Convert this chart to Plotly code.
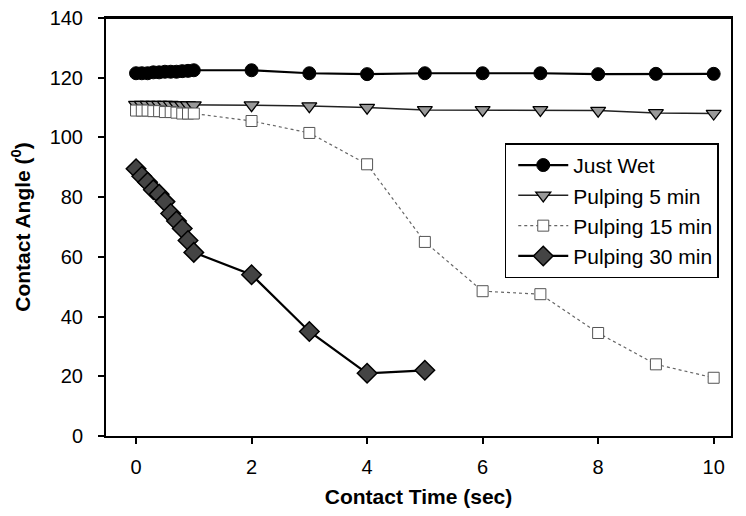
import plotly.graph_objects as go

t_dense = [0, 0.1, 0.2, 0.3, 0.4, 0.5, 0.6, 0.7, 0.8, 0.9, 1.0]
t_sparse = [2, 3, 4, 5, 6, 7, 8, 9, 10]
time_full = t_dense + t_sparse
time_30 = t_dense + [2, 3, 4, 5]

just_wet = [121.5, 121.5, 121.5, 121.8, 121.8, 122, 122, 122, 122.2, 122.3, 122.5,
            122.5, 121.5, 121.2, 121.5, 121.5, 121.5, 121.2, 121.3, 121.3]
pulp_5 = [111, 111, 111, 111, 111, 111, 111, 110.8, 110.8, 110.8, 110.8,
          110.8, 110.5, 110, 109.2, 109.2, 109.2, 109, 108.2, 108]
pulp_15 = [109, 109, 109, 108.8, 108.8, 108.5, 108.5, 108.3, 108, 108, 108,
           105.5, 101.5, 91, 65, 48.5, 47.5, 34.5, 24, 19.5]
pulp_30 = [89.5, 87, 85, 82.5, 81, 78.5, 74.5, 72, 69.5, 65.5, 61.5,
           54, 35, 21, 22]

series_names = ["Just Wet", "Pulping 5 min", "Pulping 15 min", "Pulping 30 min"]
x_ticks = [0, 2, 4, 6, 8, 10]
y_ticks = [0, 20, 40, 60, 80, 100, 120, 140]

fig = go.Figure()
fig.add_trace(go.Scatter(
    x=time_full, y=just_wet, name=series_names[0], mode="lines+markers",
    line=dict(color="black", width=2.2),
    marker=dict(symbol="circle", size=13, color="black", line=dict(color="black", width=1))))
fig.add_trace(go.Scatter(
    x=time_full, y=pulp_5, name=series_names[1], mode="lines+markers",
    line=dict(color="#222222", width=1.5),
    marker=dict(symbol="triangle-down", size=13, color="#999999", line=dict(color="black", width=1.3))))
fig.add_trace(go.Scatter(
    x=time_full, y=pulp_15, name=series_names[2], mode="lines+markers",
    line=dict(color="#666666", width=1.2, dash="dot"),
    marker=dict(symbol="square", size=11, color="white", line=dict(color="#555555", width=1))))
fig.add_trace(go.Scatter(
    x=time_30, y=pulp_30, name=series_names[3], mode="lines+markers",
    line=dict(color="black", width=2.2),
    marker=dict(symbol="diamond", size=15, color="#444444", line=dict(color="black", width=1.5))))

fig.add_shape(type="line", xref="paper", yref="paper", x0=0, x1=1, y0=1, y1=1,
              line=dict(color="black", width=2), layer="above")

fig.update_layout(
    width=730, height=500,
    margin=dict(l=98, r=7, t=10, b=72),
    paper_bgcolor="white", plot_bgcolor="white",
    font=dict(family="Liberation Sans, Arial, sans-serif", color="black", size=20),
    showlegend=True,
    legend=dict(x=0.638, y=0.70, xanchor="left", yanchor="top",
                bordercolor="black", borderwidth=1.5, bgcolor="white",
                font=dict(size=21), itemwidth=50, tracegroupgap=0,
                indentation=7),
    xaxis=dict(range=[-0.52, 10.3], tickvals=x_ticks, ticks="outside", ticklen=6,
               tickcolor="black", tickwidth=1.5, showline=True, linecolor="black", linewidth=2,
               mirror=True, showgrid=False, zeroline=False, automargin=False,
               ticklabelstandoff=6,
               title=dict(text="<b>Contact Time (sec)</b>", font=dict(size=21), standoff=14)),
    yaxis=dict(range=[0, 140], tickvals=y_ticks, ticks="outside", ticklen=6,
               tickcolor="black", tickwidth=1.5, showline=True, linecolor="black", linewidth=2,
               mirror=True, showgrid=False, zeroline=False, automargin=False,
               ticklabelstandoff=11, ticklabeloverflow="allow",
               title=dict(text="<b>Contact Angle (<sup>0</sup>)</b>", font=dict(size=21), standoff=24)),
)

fig.write_html("out.html")
